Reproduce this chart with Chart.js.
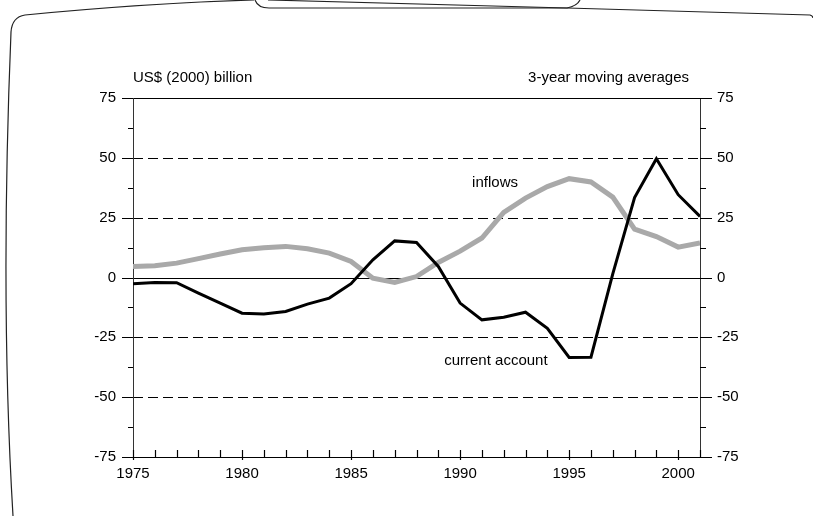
<!DOCTYPE html>
<html>
<head>
<meta charset="utf-8">
<script src="https://cdn.jsdelivr.net/npm/chart.js@4.4.1/dist/chart.umd.min.js"></script>
<style>
    html, body { margin: 0; padding: 0; background: #fff; }
    #wrap { width: 813px; height: 516px; }
</style>
</head>
<body>
<div id="wrap"><canvas id="chart" width="813" height="516"></canvas></div>
<script>
const years = [1975, 1976, 1977, 1978, 1979, 1980, 1981, 1982, 1983, 1984, 1985, 1986, 1987, 1988,
    1989, 1990, 1991, 1992, 1993, 1994, 1995, 1996, 1997, 1998, 1999, 2000, 2001];
const currentAccount = [-2.6, -2.1, -2.2, -6.5, -10.7, -14.9, -15.2, -14.2, -11.1, -8.6, -2.6, 7.4, 15.3, 14.6,
    4.6, -10.7, -17.7, -16.6, -14.5, -21.2, -33.4, -33.3, 1.5, 33.4, 49.6, 34.6, 25.5];
const inflows = [4.6, 4.9, 6.0, 7.9, 9.8, 11.6, 12.4, 13.0, 12.0, 10.2, 6.7, -0.3, -2.1, 0.4,
    6.3, 11.0, 16.5, 27.2, 33.2, 38.0, 41.3, 39.9, 33.6, 20.2, 17.1, 12.7, 14.4];
const yTickValues = [-75, -50, -25, 0, 25, 50, 75];
const xLabelYears = [1975, 1980, 1985, 1990, 1995, 2000];
const unitLabel = 'US$ (2000) billion';
const noteLabel = '3-year moving averages';
const seriesNames = ['current account', 'inflows'];

const FONT = '"Liberation Sans", Arial, sans-serif';

document.addEventListener('DOMContentLoaded', () => {
    const canvas = document.getElementById('chart');

    // page frame from the scanned figure + axes, ticks and grid lines
    const decor = {
        id: 'decor',
        beforeDraw(chart) {
            const ctx = chart.ctx;
            ctx.save();
            ctx.strokeStyle = '#222';
            ctx.lineWidth = 1.2;
            ctx.beginPath();
            ctx.moveTo(13, 516);
            ctx.quadraticCurveTo(0, 300, 11, 32);
            ctx.quadraticCurveTo(12, 17, 25, 15);
            ctx.quadraticCurveTo(150, 3, 254, 0);
            ctx.stroke();
            ctx.beginPath();
            ctx.moveTo(255, 0);
            ctx.quadraticCurveTo(258, 8, 269, 8);
            ctx.lineTo(567, 8);
            ctx.quadraticCurveTo(577, 6, 580, 0);
            ctx.stroke();
            ctx.beginPath();
            ctx.moveTo(268, 0);
            ctx.lineTo(567, 8);
            ctx.lineTo(810, 15);
            ctx.quadraticCurveTo(813, 16, 813, 18);
            ctx.stroke();
            ctx.restore();
        },
        beforeDatasetsDraw(chart) {
            const ctx = chart.ctx;
            const y = chart.scales.y;
            const x = chart.scales.x;
            const { left, right, top, bottom } = chart.chartArea;
            ctx.save();
            ctx.strokeStyle = '#000';
            ctx.lineWidth = 1.2;
            // horizontal lines
            yTickValues.forEach(v => {
                const py = Math.round(y.getPixelForValue(v)) + 0.5;
                ctx.setLineDash(v === 0 || Math.abs(v) === 75 ? [] : [10, 5]);
                ctx.beginPath();
                ctx.moveTo(left, py);
                ctx.lineTo(right, py);
                ctx.stroke();
            });
            ctx.setLineDash([]);
            // vertical axes
            ctx.strokeStyle = '#333';
            ctx.lineWidth = 1;
            [left, right].forEach(px => {
                ctx.beginPath();
                ctx.moveTo(Math.round(px) + 0.5, top);
                ctx.lineTo(Math.round(px) + 0.5, bottom);
                ctx.stroke();
            });
            // y ticks, both sides
            ctx.strokeStyle = '#000';
            ctx.lineWidth = 1.2;
            for (let v = -75; v <= 75; v += 12.5) {
                const major = v % 25 === 0;
                const py = Math.round(y.getPixelForValue(v)) + 0.5;
                ctx.beginPath();
                ctx.moveTo(left - (major ? 11 : 5), py);
                ctx.lineTo(left, py);
                ctx.moveTo(right, py);
                ctx.lineTo(right + (major ? 12 : 6), py);
                ctx.stroke();
            }
            // x ticks, pointing in
            years.forEach(yr => {
                const px = Math.round(x.getPixelForValue(yr)) + 0.5;
                ctx.beginPath();
                ctx.moveTo(px, bottom - 7);
                ctx.lineTo(px, xLabelYears.includes(yr) ? bottom + 3 : bottom);
                ctx.stroke();
            });
            ctx.restore();
        },
        afterDraw(chart) {
            const ctx = chart.ctx;
            const { left, right } = chart.chartArea;
            ctx.save();
            ctx.fillStyle = '#000';
            ctx.font = '15px ' + FONT;
            ctx.textBaseline = 'middle';
            ctx.textAlign = 'left';
            ctx.fillText(unitLabel, left, 78);
            ctx.textAlign = 'right';
            ctx.fillText(noteLabel, right - 11, 78);
            ctx.textAlign = 'left';
            ctx.fillText(seriesNames[1], chart.scales.x.getPixelForValue(1990.55), chart.scales.y.getPixelForValue(39.5));
            ctx.fillText(seriesNames[0], chart.scales.x.getPixelForValue(1989.27), chart.scales.y.getPixelForValue(-34.8));
            ctx.restore();
        }
    };

    const tickFont = { family: FONT, size: 15 };

    new Chart(canvas, {
        type: 'line',
        data: {
            datasets: [{
                label: seriesNames[0],
                data: years.map((yr, i) => ({ x: yr, y: currentAccount[i] })),
                borderColor: '#000',
                borderWidth: 3,
                pointRadius: 0,
                tension: 0,
                fill: false,
                yAxisID: 'y'
            }, {
                label: seriesNames[1],
                data: years.map((yr, i) => ({ x: yr, y: inflows[i] })),
                borderColor: '#a9a9a9',
                borderWidth: 5,
                pointRadius: 0,
                tension: 0,
                fill: false,
                yAxisID: 'y'
            }]
        },
        options: {
            responsive: false,
            animation: false,
            events: [],
            layout: { padding: { top: 98, left: 0, right: 0, bottom: 0 } },
            plugins: {
                legend: { display: false },
                tooltip: { enabled: false }
            },
            scales: {
                x: {
                    type: 'linear',
                    min: 1975,
                    max: 2001,
                    grid: { display: false, drawTicks: false },
                    border: { display: false },
                    ticks: {
                        stepSize: 1,
                        autoSkip: false,
                        maxRotation: 0,
                        padding: 8,
                        color: '#000',
                        font: tickFont,
                        callback: v => xLabelYears.includes(v) ? String(v) : ''
                    },
                    afterFit: s => { s.height = 59; }
                },
                y: {
                    position: 'left',
                    min: -75,
                    max: 75,
                    grid: { display: false, drawTicks: false },
                    border: { display: false },
                    ticks: { stepSize: 25, padding: 17, color: '#000', font: tickFont },
                    afterFit: s => { s.width = 133; }
                },
                y2: {
                    position: 'right',
                    min: -75,
                    max: 75,
                    grid: { display: false, drawTicks: false },
                    border: { display: false },
                    ticks: { stepSize: 25, padding: 17, color: '#000', font: tickFont },
                    afterFit: s => { s.width = 113; }
                }
            }
        },
        plugins: [decor]
    });
});
</script>
</body>
</html>
